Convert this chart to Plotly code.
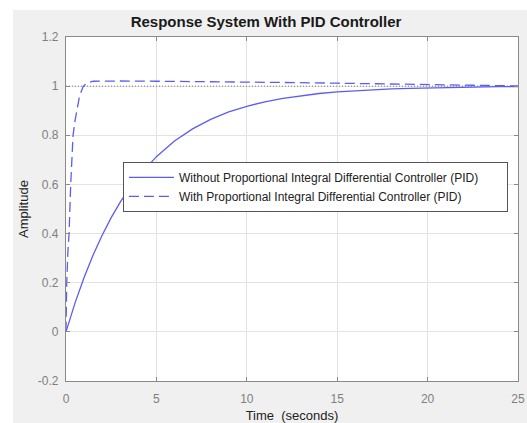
import plotly.graph_objects as go

# Data
t_without = [0, 0.25, 0.5, 1, 1.5, 2, 2.5, 3, 3.5, 4, 5, 6, 7, 8, 9, 10, 11, 12, 13,
             14, 15, 16, 17, 18, 19, 20, 21, 22, 23, 24, 25]
y_without = [0, 0.06, 0.118, 0.221, 0.313, 0.393, 0.465, 0.528, 0.583, 0.632, 0.713,
             0.777, 0.826, 0.865, 0.895, 0.918, 0.936, 0.950, 0.961, 0.970, 0.977,
             0.982, 0.986, 0.989, 0.991, 0.993, 0.995, 0.996, 0.997, 0.998, 0.998]

t_with = [0, 0.02, 0.04, 0.1, 0.17, 0.26, 0.33, 0.39, 0.5, 0.59, 0.75, 0.96, 1.2, 1.5,
          2, 3, 5, 8, 10, 12, 15, 18, 20, 22, 25]
y_with = [0, 0.12, 0.2, 0.32, 0.4, 0.6, 0.72, 0.8, 0.86, 0.9, 0.96, 1.0, 1.014, 1.02,
          1.021, 1.021, 1.02, 1.019, 1.017, 1.015, 1.012, 1.008, 1.006, 1.004, 1.001]

ref_t = [0, 25]
ref_y = [1, 1]

x_ticks = [0, 5, 10, 15, 20, 25]
y_ticks = [-0.2, 0, 0.2, 0.4, 0.6, 0.8, 1, 1.2]

name_without = "Without Proportional Integral Differential Controller (PID)"
name_with = "With Proportional Integral Differential Controller (PID)"

FONT = "Arial, 'Liberation Sans', sans-serif"
LINE = "#5c5cf5"
PAD = "\u00a0" * 7

fig = go.Figure()
fig.add_trace(go.Scatter(x=ref_t, y=ref_y, mode="lines", showlegend=False,
                         line=dict(color="#7a7a7a", width=1, dash="1px,2px"),
                         hoverinfo="skip"))
fig.add_trace(go.Scatter(x=t_without, y=y_without, mode="lines", name=name_without + PAD,
                         line=dict(color=LINE, width=1.3)))
fig.add_trace(go.Scatter(x=t_with, y=y_with, mode="lines", name=name_with + PAD,
                         line=dict(color=LINE, width=1.3, dash="10px,5px")))

axis_common = dict(
    showline=True, linecolor="#8a8a8a", linewidth=1.3, mirror="allticks",
    ticks="inside", ticklen=4, tickcolor="#8a8a8a",
    showgrid=True, gridcolor="#e3e3e3", gridwidth=1, zeroline=False,
    tickfont=dict(family=FONT, size=12, color="#7f7f7f"),
    automargin=False,
)

fig.update_xaxes(range=[0, 25], tickvals=x_ticks, ticktext=[str(v) for v in x_ticks],
                 title=dict(text="Time  (seconds)", font=dict(family=FONT, size=13, color="#222"),
                            standoff=7),
                 ticklabelstandoff=6, **axis_common)
fig.update_yaxes(range=[-0.2, 1.2], tickvals=y_ticks,
                 ticktext=["-0.2", "0", "0.2", "0.4", "0.6", "0.8", "1", "1.2"],
                 title=dict(text="Amplitude", font=dict(family=FONT, size=13, color="#222"),
                            standoff=6),
                 ticklabelstandoff=4, **axis_common)

fig.update_layout(
    width=527, height=423,
    margin=dict(l=66, r=9, t=37, b=42),
    paper_bgcolor="white", plot_bgcolor="white",
    title=dict(text="<b>Response System With PID Controller</b>",
               font=dict(family=FONT, size=15, color="#1a1a1a"),
               x=266 / 527, xref="container", xanchor="center",
               y=1 - 22 / 423, yref="container", yanchor="middle"),
    legend=dict(x=0.126, y=0.637, xanchor="left", yanchor="top",
                bgcolor="white", bordercolor="#555", borderwidth=1,
                font=dict(family=FONT, size=12, color="#222"),
                tracegroupgap=0, itemwidth=45),
    font=dict(family=FONT),
    shapes=[
        dict(type="rect", xref="paper", yref="paper", x0=-0.117, x1=1.05, y0=-0.15, y1=1.0785,
             fillcolor="#f0f0f0", line=dict(width=0), layer="below"),
        dict(type="rect", xref="paper", yref="paper", x0=0, x1=1, y0=0, y1=1,
             fillcolor="white", line=dict(width=0), layer="below"),
    ],
)

fig.write_html("out.html")
